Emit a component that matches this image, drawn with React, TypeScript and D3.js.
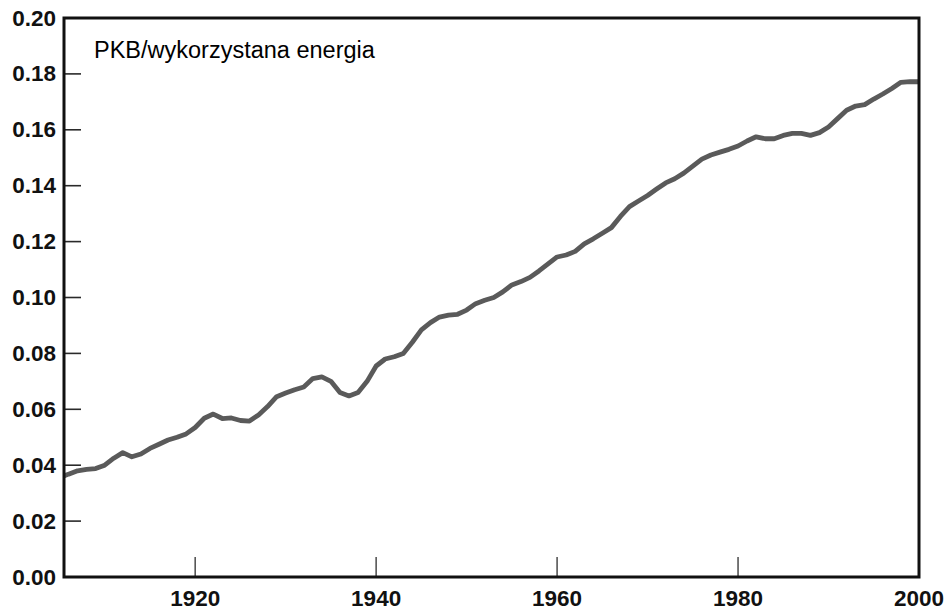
import React from "react";
import * as d3 from "d3";

const years: number[] = [
  1905, 1906, 1907, 1908, 1909, 1910, 1911, 1912, 1913, 1914, 1915, 1916, 1917, 1918, 1919,
  1920, 1921, 1922, 1923, 1924, 1925, 1926, 1927, 1928, 1929, 1930, 1931, 1932, 1933, 1934,
  1935, 1936, 1937, 1938, 1939, 1940, 1941, 1942, 1943, 1944, 1945, 1946, 1947, 1948, 1949,
  1950, 1951, 1952, 1953, 1954, 1955, 1956, 1957, 1958, 1959, 1960, 1961, 1962, 1963, 1964,
  1965, 1966, 1967, 1968, 1969, 1970, 1971, 1972, 1973, 1974, 1975, 1976, 1977, 1978, 1979,
  1980, 1981, 1982, 1983, 1984, 1985, 1986, 1987, 1988, 1989, 1990, 1991, 1992, 1993, 1994,
  1995, 1996, 1997, 1998, 1999, 2000,
];

const gdpPerEnergy: number[] = [
  0.0355, 0.0368, 0.038, 0.0385, 0.0388, 0.04, 0.0425, 0.0445, 0.043, 0.044, 0.046, 0.0475, 0.049, 0.05, 0.0512,
  0.0535, 0.0568, 0.0583, 0.0567, 0.0569, 0.056, 0.0558, 0.058, 0.061, 0.0645, 0.0658, 0.067, 0.068, 0.071, 0.0716,
  0.07, 0.066, 0.0648, 0.066, 0.07, 0.0755, 0.078, 0.0788, 0.08, 0.084, 0.0884, 0.091, 0.093, 0.0937, 0.094,
  0.0955, 0.0978, 0.099, 0.1, 0.102, 0.1045, 0.1057, 0.1072, 0.1095, 0.112, 0.1145, 0.1152, 0.1165, 0.1192, 0.121,
  0.123, 0.125, 0.129, 0.1325, 0.1345, 0.1365, 0.1388, 0.141, 0.1425, 0.1445, 0.147, 0.1495, 0.151, 0.152, 0.153,
  0.1542, 0.156, 0.1575, 0.1568, 0.1568, 0.158, 0.1587, 0.1587, 0.158, 0.159, 0.161, 0.164, 0.167, 0.1685, 0.169,
  0.171, 0.1728, 0.1748, 0.177, 0.1772, 0.1772,
];

const xTicks: number[] = [1920, 1940, 1960, 1980, 2000];
const yTicks: number[] = [0, 0.02, 0.04, 0.06, 0.08, 0.1, 0.12, 0.14, 0.16, 0.18, 0.2];
const title = "PKB/wykorzystana energia";

export default function App() {
  const W = 948;
  const H = 610;
  const left = 64, right = 919, top = 18, bottom = 577;
  const x = d3.scaleLinear().domain([1905.5, 2000]).range([left, right]);
  const y = d3.scaleLinear().domain([0, 0.2]).range([bottom, top]);
  const data = years.map((yr, i) => [yr, gdpPerEnergy[i]] as [number, number]);
  const line = d3
    .line<[number, number]>()
    .x((d) => x(d[0]))
    .y((d) => y(d[1]))
    .curve(d3.curveLinear);
  const font = "'Liberation Sans', Arial, Helvetica, sans-serif";

  return (
    <svg
      width={W}
      height={H}
      style={{ position: "fixed", left: 0, top: 0, background: "#fff" }}
      fontFamily={font}
    >
      <defs>
        <clipPath id="plot">
          <rect x={left} y={top} width={right - left} height={bottom - top} />
        </clipPath>
      </defs>
      <rect x={0} y={0} width={W} height={H} fill="#fff" />
      <path
        d={line(data) || ""}
        fill="none"
        stroke="#5a5a5a"
        strokeWidth={4.8}
        strokeLinejoin="round"
        strokeLinecap="round"
        clipPath="url(#plot)"
      />
      {yTicks.map((t) => (
        <g key={"y" + t}>
          <line x1={left} x2={left + 17} y1={y(t)} y2={y(t)} stroke="#2a2a2a" strokeWidth={1.6} />
          <text
            x={56}
            y={y(t)}
            textAnchor="end"
            dominantBaseline="central"
            fontSize={22.5}
            fontWeight="bold"
            fill="#111"
          >
            {t.toFixed(2)}
          </text>
        </g>
      ))}
      {xTicks.map((t) => (
        <g key={"x" + t}>
          <line x1={x(t)} x2={x(t)} y1={bottom} y2={bottom - 20} stroke="#555" strokeWidth={1.6} />
          <text
            x={x(t)}
            y={606}
            textAnchor="middle"
            fontSize={22.5}
            fontWeight="bold"
            fill="#111"
          >
            {t}
          </text>
        </g>
      ))}
      <rect
        x={left}
        y={top}
        width={right - left}
        height={bottom - top}
        fill="none"
        stroke="#111"
        strokeWidth={3}
      />
      <text x={94} y={58} fontSize={23.5} fill="#000">
        {title}
      </text>
    </svg>
  );
}
